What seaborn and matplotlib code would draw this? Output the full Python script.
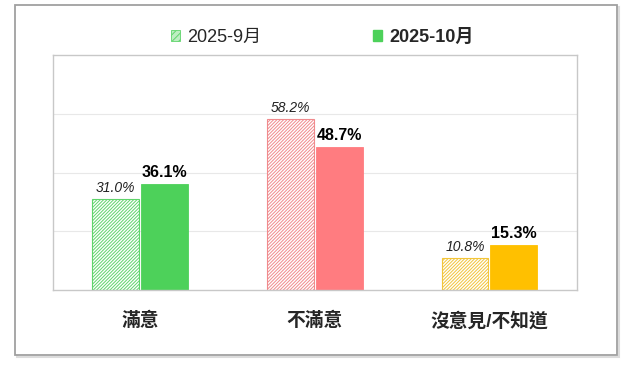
import matplotlib
matplotlib.use("Agg")
import matplotlib.pyplot as plt
from matplotlib.patches import Patch, Rectangle
import pandas as pd
import seaborn as sns

# ─── Data ─────────────────────────────────────────────────────────────────────
CATEGORIES = ["滿意", "不滿意", "沒意見/不知道"]
PERIODS    = ["2025-9月", "2025-10月"]
SEP_VALUES = [31.0, 58.2, 10.8]
OCT_VALUES = [36.1, 48.7, 15.3]

SOLID_COLORS = ["#4dd15a", "#ff7c80", "#ffc000"]
HATCH_COLORS = ["#5fd46b", "#f08a8d", "#f2c53a"]
HATCH = "//////////"

df = pd.DataFrame({
    "category": CATEGORIES * 2,
    "period":   [PERIODS[0]] * 3 + [PERIODS[1]] * 3,
    "value":    SEP_VALUES + OCT_VALUES,
})

# ─── Style ────────────────────────────────────────────────────────────────────
sns.set_theme(style="white")
plt.rcParams["font.family"] = ["Liberation Sans", "Noto Sans CJK TC"]
plt.rcParams["hatch.linewidth"] = 0.7

fig = plt.figure(figsize=(6.28, 3.73), dpi=100)

# outer frame with a faint shadow
fig.patches.append(Rectangle((0.027, 0.043), 0.9586, 0.938, transform=fig.transFigure,
                             fill=False, edgecolor="#dcdcdc", lw=1.5, zorder=0))
fig.patches.append(Rectangle((0.0239, 0.048), 0.9586, 0.938, transform=fig.transFigure,
                             facecolor="white", edgecolor="#a0a0a0", lw=1.3, zorder=1))

ax = fig.add_axes([0.0844, 0.2225, 0.834, 0.630])
ax.set_zorder(2)

sns.barplot(data=df, x="category", y="value", hue="period", hue_order=PERIODS,
            order=CATEGORIES, width=0.56, gap=0.04, ax=ax, legend=False,
            saturation=1)

# colour each bar by category; first period hatched
for i, cont in enumerate(ax.containers):
    for j, bar in enumerate(cont):
        if i == 0:
            bar.set_facecolor("white")
            bar.set_edgecolor(HATCH_COLORS[j])
            bar.set_hatch(HATCH)
            bar.set_linewidth(0.8)
        else:
            bar.set_facecolor(SOLID_COLORS[j])
            bar.set_edgecolor(SOLID_COLORS[j])
            bar.set_linewidth(0.6)

ax.bar_label(ax.containers[0], labels=[f"{v:.1f}%" for v in SEP_VALUES],
             padding=3, fontsize=10, fontstyle="italic", color="#222222")
ax.bar_label(ax.containers[1], labels=[f"{v:.1f}%" for v in OCT_VALUES],
             padding=3, fontsize=11.5, fontweight="bold", color="black")

ax.set_ylim(0, 80)
ax.set_xlim(-0.5, 2.5)
ax.set_yticks([20, 40, 60])
ax.set_yticklabels([])
ax.tick_params(axis="y", length=0)
ax.yaxis.grid(True, color="#e8e8e8", lw=0.8)
ax.set_axisbelow(True)
ax.set_xlabel("")
ax.set_ylabel("")
ax.tick_params(axis="x", length=0, pad=16, labelsize=13.5)
for lbl in ax.get_xticklabels():
    lbl.set_fontweight("bold")
ax.set_xticks([0.5, 1.5], minor=True)
ax.tick_params(axis="x", which="minor", direction="in", length=5, color="#bfbfbf", width=1)
for s in ax.spines.values():
    s.set_color("#c8c8c8")
    s.set_linewidth(1)

# legend above the plot
handles = [
    Patch(facecolor="#bdeec2", edgecolor=HATCH_COLORS[0], hatch="/////", lw=0.6),
    Patch(facecolor=SOLID_COLORS[0], edgecolor=SOLID_COLORS[0]),
]
leg = fig.legend(handles, PERIODS, loc="center", bbox_to_anchor=(0.513, 0.90),
                 ncol=2, frameon=False, fontsize=13, handlelength=0.5,
                 handleheight=0.5, handletextpad=0.4, columnspacing=6.2)
leg.get_texts()[1].set_fontweight("bold")

fig.savefig("out.png", dpi=100)
